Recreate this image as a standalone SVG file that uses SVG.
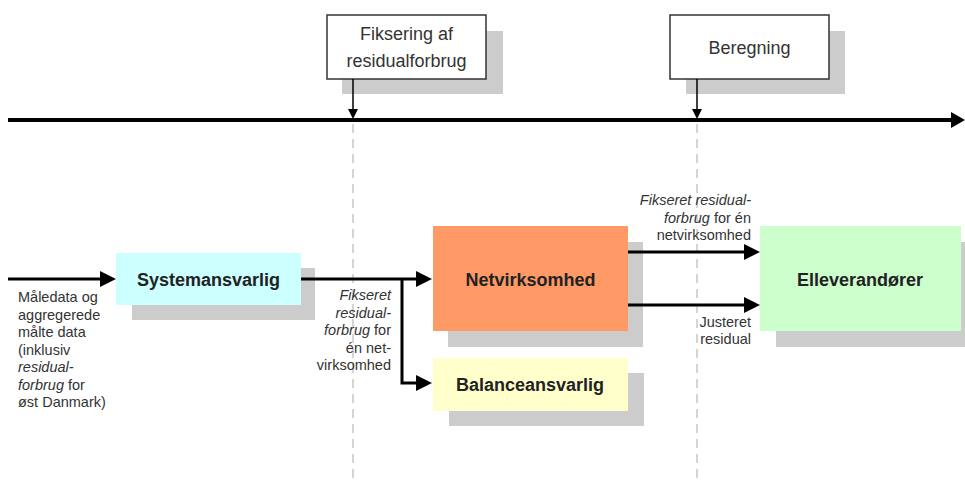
<svg xmlns="http://www.w3.org/2000/svg" width="965" height="484" viewBox="0 0 965 484">
<style>
.shadow{fill:#CCCCCC}
.evt{fill:#FFFFFF;stroke:#333333;stroke-width:1.5}
.evtText{font-family:"Liberation Sans",Arial,sans-serif;font-size:18px;fill:#333333;text-anchor:middle}
.nodeText{font-family:"Liberation Sans",Arial,sans-serif;font-size:18px;font-weight:bold;fill:#222222;text-anchor:middle}
.lbl{font-family:"Liberation Sans",Arial,sans-serif;font-size:14.5px;fill:#333333}
.it{font-style:italic}
.thick{fill:none;stroke:#000000;stroke-width:3}
.thin{fill:none;stroke:#000000;stroke-width:1.5}
.dash{fill:none;stroke:#AAAAAA;stroke-width:1;stroke-dasharray:9 6}
</style>
<defs>
<marker id="big" viewBox="0 0 16 16" refX="4" refY="8" markerWidth="16" markerHeight="16" markerUnits="userSpaceOnUse" orient="auto">
<path d="M0,0 L16,8 L0,16 z" fill="#000000"/>
</marker>
<marker id="tl" viewBox="0 0 14 16" refX="4" refY="8" markerWidth="14" markerHeight="16" markerUnits="userSpaceOnUse" orient="auto">
<path d="M0,0 L14,8 L0,16 z" fill="#000000"/>
</marker>
<marker id="small" viewBox="0 0 10 10" refX="3" refY="5" markerWidth="10" markerHeight="10" markerUnits="userSpaceOnUse" orient="auto">
<path d="M0,0 L10,5 L0,10 z" fill="#000000"/>
</marker>
</defs>
<rect width="965" height="484" fill="#FFFFFF"/>

<g id="guides">
<path class="dash" d="M353,124 V484"/>
<path class="dash" d="M697,124 V484"/>
</g>

<g id="event-fiksering">
<rect class="shadow" x="342" y="31" width="161" height="63"/>
<rect class="evt" x="327" y="15" width="159" height="64"/>
<text class="evtText" x="406.5" y="39.5">Fiksering af</text>
<text class="evtText" x="406.5" y="66.5">residualforbrug</text>
</g>

<g id="event-beregning">
<rect class="shadow" x="686" y="31" width="159" height="63"/>
<rect class="evt" x="670" y="15" width="159" height="64"/>
<text class="evtText" x="749.5" y="53.5">Beregning</text>
</g>

<g id="node-systemansvarlig">
<rect class="shadow" x="132" y="268" width="183" height="52"/>
<rect x="116" y="253" width="185" height="52" fill="#CCFFFF"/>
<text class="nodeText" x="208.5" y="285.5">Systemansvarlig</text>
</g>

<g id="node-netvirksomhed">
<rect class="shadow" x="448" y="242" width="195" height="105"/>
<rect x="433" y="226" width="195" height="105" fill="#FF9966"/>
<text class="nodeText" x="530.5" y="286">Netvirksomhed</text>
</g>

<g id="node-balanceansvarlig">
<rect class="shadow" x="449" y="373" width="195" height="53"/>
<rect x="433" y="358" width="195" height="53" fill="#FFFFCC"/>
<text class="nodeText" x="530" y="391">Balanceansvarlig</text>
</g>

<g id="node-elleverandorer">
<rect class="shadow" x="776" y="242" width="195" height="105"/>
<rect x="760" y="226" width="201" height="105" fill="#CCFFCC"/>
<text class="nodeText" x="860" y="286">Elleverandører</text>
</g>

<g id="connectors">
<path d="M8,120 H955" stroke="#000000" stroke-width="4" fill="none" marker-end="url(#tl)"/>
<path class="thin" d="M353,79 V112" marker-end="url(#small)"/>
<path class="thin" d="M697,79 V112" marker-end="url(#small)"/>
<path class="thick" d="M8,279 H104" marker-end="url(#big)"/>
<path class="thick" d="M301,279 H420" marker-end="url(#big)"/>
<path class="thick" d="M402,279 V383 H420" marker-end="url(#big)"/>
<path class="thick" d="M628,252 H748" marker-end="url(#big)"/>
<path class="thick" d="M628,305 H748" marker-end="url(#big)"/>
</g>

<g id="labels">
<text class="lbl" x="18" y="302">Måledata og</text>
<text class="lbl" x="18" y="319.5">aggregerede</text>
<text class="lbl" x="18" y="337">målte data</text>
<text class="lbl" x="18" y="354.5">(inklusiv</text>
<text class="lbl it" x="18" y="372">residual-</text>
<text class="lbl" x="18" y="389.5"><tspan class="it">forbrug</tspan> for</text>
<text class="lbl" x="18" y="407">øst Danmark)</text>

<g text-anchor="end">
<text class="lbl it" x="391" y="300">Fikseret</text>
<text class="lbl it" x="391" y="317.5">residual-</text>
<text class="lbl" x="391" y="335"><tspan class="it">forbrug</tspan> for</text>
<text class="lbl" x="391" y="352.5">én net-</text>
<text class="lbl" x="391" y="370">virksomhed</text>

<text class="lbl it" x="751" y="205">Fikseret residual-</text>
<text class="lbl" x="751" y="222.5"><tspan class="it">forbrug</tspan> for én</text>
<text class="lbl" x="751" y="240">netvirksomhed</text>

<text class="lbl" x="751" y="327">Justeret</text>
<text class="lbl" x="751" y="344">residual</text>
</g>
</g>
</svg>
